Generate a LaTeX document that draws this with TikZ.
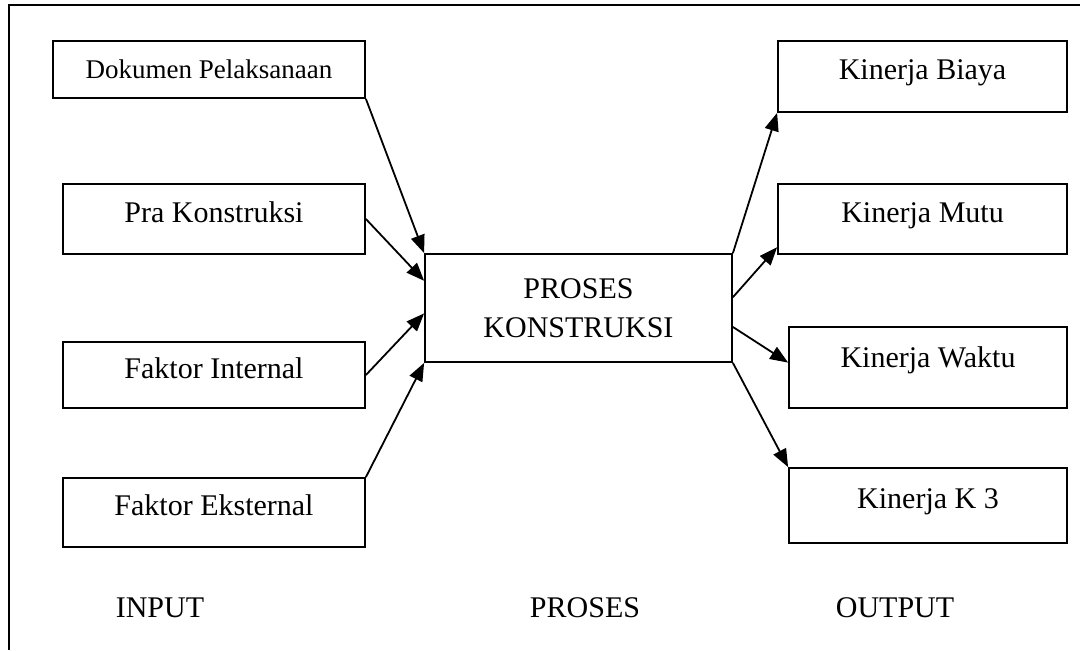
\documentclass[tikz,border=0pt]{standalone}
\usepackage{fontspec}
\setmainfont{Liberation Serif}
\usetikzlibrary{
    arrows.meta,
    positioning
}

\begin{document}
\begin{tikzpicture}[
    x=0.5pt, y=-0.5pt,
    font=\fontsize{15}{19.5}\selectfont,
    boxnode/.style   = {rectangle, draw, line width=0.9pt, align=center,
                        inner sep=0pt, text height=9pt, text depth=6pt},
    labelnode/.style = {inner sep=0pt},
    arrowline/.style = {line width=0.9pt, -{Triangle[length=9pt, width=7pt]}},
]
    \useasboundingbox (0,0) rectangle (1080,650);
    \draw[line width=0.9pt] (1080,5) -- (9,5) -- (9,650);

    %Nodes
    \node[boxnode, minimum width=156pt,   minimum height=28.5pt,
          font=\fontsize{13.5}{16}\selectfont, text height=10pt, text depth=1pt]
                                    (dokumen)   at (209,69.5)  {Dokumen Pelaksanaan};
    \node[boxnode, minimum width=151pt,   minimum height=35pt]   (pra)       at (214,219)   {Pra Konstruksi};
    \node[boxnode, minimum width=151pt,   minimum height=33pt]   (internal)  at (214,375)   {Faktor Internal};
    \node[boxnode, minimum width=151pt,   minimum height=34.5pt] (eksternal) at (214,512.5) {Faktor Eksternal};
    \node[boxnode, minimum width=153.5pt, minimum height=54pt,
          text height=, text depth=]                             (proses)    at (578.5,308) {PROSES\\KONSTRUKSI};
    \node[boxnode, minimum width=144.5pt, minimum height=35.5pt] (biaya)     at (922.5,76.5) {Kinerja Biaya};
    \node[boxnode, minimum width=144.5pt, minimum height=35pt]   (mutu)      at (922.5,219) {Kinerja Mutu};
    \node[boxnode, minimum width=139pt,   minimum height=40.5pt,
          text height=8pt, text depth=8pt]                       (waktu)     at (928,367.5) {Kinerja Waktu};
    \node[boxnode, minimum width=139pt,   minimum height=37.5pt] (kthree)    at (928,505.5) {Kinerja K 3};

    \node[labelnode] (inputlbl)  at (160,608) {INPUT};
    \node[labelnode] (proseslbl) at (585,608) {PROSES};
    \node[labelnode] (outputlbl) at (895,608) {OUTPUT};

    %Lines
    \draw[arrowline] (dokumen.south east)   -- (proses.north west);
    \draw[arrowline] (pra.east)             -- (proses.170);
    \draw[arrowline] (internal.east)        -- (proses.182);
    \draw[arrowline] (eksternal.north east) -- (proses.south west);
    \draw[arrowline] (proses.north east)    -- (biaya.south west);
    \draw[arrowline] (proses.4)             -- (mutu.191);
    \draw[arrowline] (proses.-7)            -- (waktu.178);
    \draw[arrowline] (proses.south east)    -- (kthree.north west);
\end{tikzpicture}
\end{document}
